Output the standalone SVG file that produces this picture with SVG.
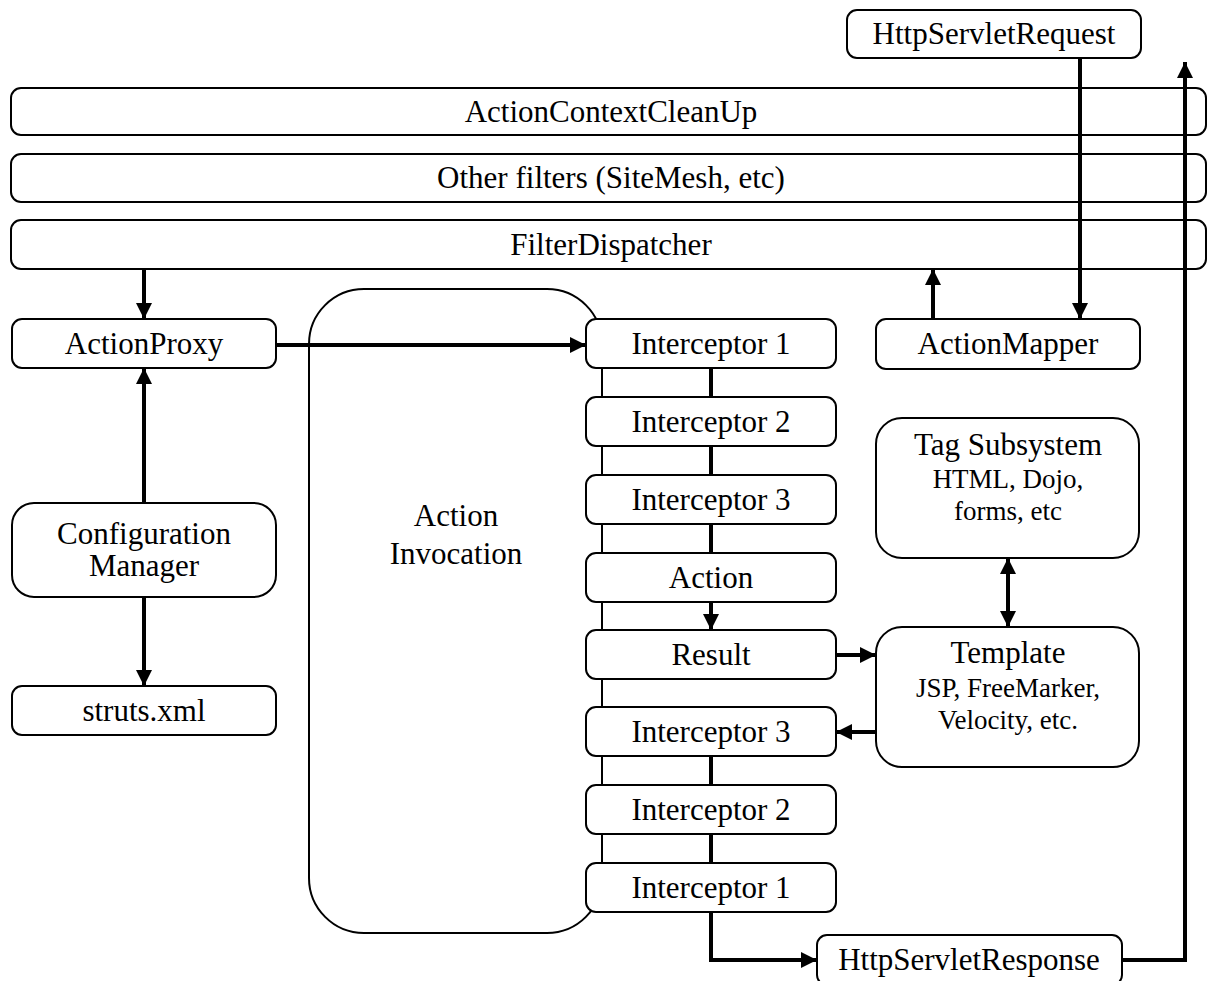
<svg xmlns="http://www.w3.org/2000/svg" width="1208" height="981" viewBox="0 0 1208 981">
<style>
.b{fill:#fff;stroke:#000;stroke-width:2}
.t{font-family:"Liberation Serif","Times New Roman",serif;font-size:31px;text-anchor:middle;fill:#000}
.s{font-family:"Liberation Serif","Times New Roman",serif;font-size:27px;text-anchor:middle;fill:#000}
.c{fill:none;stroke:#000;stroke-width:4}
</style>
<defs>
<marker id="a" viewBox="0 0 10 10" refX="10" refY="5" markerWidth="4" markerHeight="4" markerUnits="strokeWidth" orient="auto-start-reverse">
<path d="M0,0 L10,5 L0,10 z" fill="#000"/>
</marker>
</defs>
<rect width="1208" height="981" fill="#fff"/>
<g id="ai"><rect class="b" x="309" y="289" width="293" height="644" rx="55"/><text class="t" x="456" y="526">Action</text><text class="t" x="456" y="564">Invocation</text></g>
<g id="req"><rect class="b" x="847" y="10" width="294" height="48" rx="10"/><text class="t" x="994" y="44">HttpServletRequest</text></g>
<g id="cleanup"><rect class="b" x="11" y="88" width="1195" height="47" rx="10"/><text class="t" x="611" y="122">ActionContextCleanUp</text></g>
<g id="other"><rect class="b" x="11" y="154" width="1195" height="48" rx="10"/><text class="t" x="611" y="188">Other filters (SiteMesh, etc)</text></g>
<g id="fd"><rect class="b" x="11" y="220" width="1195" height="49" rx="10"/><text class="t" x="611" y="255">FilterDispatcher</text></g>
<g id="proxy"><rect class="b" x="12" y="319" width="264" height="49" rx="10"/><text class="t" x="144" y="354">ActionProxy</text></g>
<g id="cm"><rect class="b" x="12" y="503" width="264" height="94" rx="22"/><text class="t" x="144" y="544">Configuration</text><text class="t" x="144" y="576">Manager</text></g>
<g id="struts"><rect class="b" x="12" y="686" width="264" height="49" rx="10"/><text class="t" x="144" y="721">struts.xml</text></g>
<g id="i1"><rect class="b" x="586" y="319" width="250" height="49" rx="10"/><text class="t" x="711" y="354">Interceptor 1</text></g>
<g id="i2"><rect class="b" x="586" y="397" width="250" height="49" rx="10"/><text class="t" x="711" y="432">Interceptor 2</text></g>
<g id="i3"><rect class="b" x="586" y="475" width="250" height="49" rx="10"/><text class="t" x="711" y="510">Interceptor 3</text></g>
<g id="action"><rect class="b" x="586" y="553" width="250" height="49" rx="10"/><text class="t" x="711" y="588">Action</text></g>
<g id="result"><rect class="b" x="586" y="630" width="250" height="49" rx="10"/><text class="t" x="711" y="665">Result</text></g>
<g id="i3b"><rect class="b" x="586" y="707" width="250" height="49" rx="10"/><text class="t" x="711" y="742">Interceptor 3</text></g>
<g id="i2b"><rect class="b" x="586" y="785" width="250" height="49" rx="10"/><text class="t" x="711" y="820">Interceptor 2</text></g>
<g id="i1b"><rect class="b" x="586" y="863" width="250" height="49" rx="10"/><text class="t" x="711" y="898">Interceptor 1</text></g>
<g id="mapper"><rect class="b" x="876" y="319" width="264" height="50" rx="10"/><text class="t" x="1008" y="354">ActionMapper</text></g>
<g id="tag"><rect class="b" x="876" y="418" width="263" height="140" rx="26"/><text class="t" x="1008" y="455">Tag Subsystem</text><text class="s" x="1008" y="488">HTML, Dojo,</text><text class="s" x="1008" y="520">forms, etc</text></g>
<g id="tpl"><rect class="b" x="876" y="627" width="263" height="140" rx="26"/><text class="t" x="1008" y="663">Template</text><text class="s" x="1008" y="697">JSP, FreeMarker,</text><text class="s" x="1008" y="729">Velocity, etc.</text></g>
<g id="resp"><rect class="b" x="817" y="935" width="305" height="50" rx="10"/><text class="t" x="969" y="970">HttpServletResponse</text></g>
<g id="connectors">
<line class="c" x1="144" y1="269" x2="144" y2="319" marker-end="url(#a)"/>
<line class="c" x1="144" y1="503" x2="144" y2="368" marker-end="url(#a)"/>
<line class="c" x1="144" y1="597" x2="144" y2="686" marker-end="url(#a)"/>
<line class="c" x1="276" y1="345" x2="586" y2="345" marker-end="url(#a)"/>
<line class="c" x1="1080" y1="58" x2="1080" y2="319" marker-end="url(#a)"/>
<line class="c" x1="933" y1="319" x2="933" y2="269" marker-end="url(#a)"/>
<line class="c" x1="711" y1="368" x2="711" y2="397"/>
<line class="c" x1="711" y1="446" x2="711" y2="475"/>
<line class="c" x1="711" y1="524" x2="711" y2="553"/>
<line class="c" x1="711" y1="602" x2="711" y2="630" marker-end="url(#a)"/>
<line class="c" x1="836" y1="655" x2="876" y2="655" marker-end="url(#a)"/>
<line class="c" x1="876" y1="732" x2="836" y2="732" marker-end="url(#a)"/>
<line class="c" x1="1008" y1="558" x2="1008" y2="627" marker-start="url(#a)" marker-end="url(#a)"/>
<line class="c" x1="711" y1="756" x2="711" y2="785"/>
<line class="c" x1="711" y1="834" x2="711" y2="863"/>
<polyline class="c" points="711,912 711,960 817,960" marker-end="url(#a)"/>
<polyline class="c" points="1122,960 1185,960 1185,62" marker-end="url(#a)"/>
</g>
</svg>
